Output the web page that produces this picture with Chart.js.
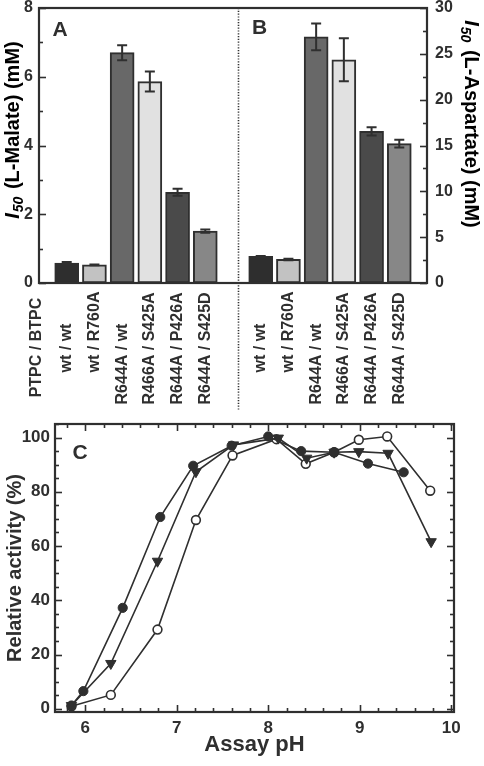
<!DOCTYPE html>
<html>
<head>
<meta charset="utf-8">
<script src="https://cdn.jsdelivr.net/npm/chart.js@4.4.1/dist/chart.umd.min.js"></script>
<style>
  html, body { margin: 0; padding: 0; background: #fff; }
  canvas { position: absolute; left: 0; }
  #barChart { top: 0; }
  #phChart { top: 410px; }
</style>
</head>
<body>
<canvas id="barChart" width="484" height="410"></canvas>
<canvas id="phChart" width="484" height="356"></canvas>
<script>
// ---- data: panels A / B ----
const pairLabels = ['wt / wt', 'wt / R760A', 'R644A / wt', 'R466A / S425A', 'R644A / P426A', 'R644A / S425D'];
const headerLabel = 'PTPC / BTPC';
const malateI50 = [0.58, 0.53, 6.70, 5.86, 2.64, 1.51];
const malateErr = [0.03, 0.01, 0.22, 0.29, 0.10, 0.05];
const aspartateI50 = [2.90, 2.57, 26.85, 24.35, 16.55, 15.20];
const aspartateErr = [0.05, 0.08, 1.45, 2.35, 0.45, 0.42];
const barFills = ['#2e2e2e', '#c2c2c2', '#686868', '#e1e1e1', '#4a4a4a', '#878787'];

// ---- data: panel C ----
const phFilled = [5.85, 5.98, 6.41, 6.82, 7.18, 7.60, 8.00, 8.36, 8.72, 9.09, 9.48];
const actFilled = [1.2, 6.5, 37.2, 70.7, 89.6, 97.0, 100.4, 95.0, 94.6, 90.4, 87.2];
const phTriangle = [5.85, 6.28, 6.79, 7.21, 7.62, 8.11, 8.42, 8.72, 8.99, 9.31, 9.78];
const actTriangle = [1.2, 16.7, 54.4, 87.4, 97.3, 99.8, 92.4, 94.6, 94.8, 94.2, 61.6];
const phOpen = [5.85, 6.28, 6.79, 7.21, 7.61, 8.09, 8.41, 8.72, 8.99, 9.30, 9.77];
const actOpen = [0.9, 5.1, 29.2, 69.6, 93.4, 99.4, 90.3, 94.6, 99.2, 100.4, 80.4];

const INK = '#2f2f2f';
const FAM = '"Liberation Sans", Arial, Helvetica, sans-serif';
Chart.defaults.font.family = FAM;
Chart.defaults.font.weight = 'bold';
Chart.defaults.color = INK;

// frame round the plot area + inward ticks
const frameTicks = {
	id: 'frameTicks',
	afterDatasetsDraw(chart, args, opts) {
		const {ctx, chartArea: a} = chart;
		ctx.save();
		ctx.strokeStyle = INK;
		ctx.lineWidth = 1.6;
		(opts.marks || []).forEach(m => {
			const s = chart.scales[m.scale];
			const first = Math.ceil((s.min - 1e-9) / m.minor);
			for (let k = first; k * m.minor <= s.max + 1e-9; k++) {
				const v = k * m.minor;
				const r = v / m.major;
				const len = Math.abs(r - Math.round(r)) < 1e-6 ? 7 : 4;
				const p = Math.round(s.getPixelForValue(v)) + 0.5;
				m.sides.forEach(side => {
					ctx.beginPath();
					if (side === 'left') { ctx.moveTo(a.left, p); ctx.lineTo(a.left + len, p); }
					if (side === 'right') { ctx.moveTo(a.right, p); ctx.lineTo(a.right - len, p); }
					if (side === 'bottom') { ctx.moveTo(p, a.bottom); ctx.lineTo(p, a.bottom - len); }
					if (side === 'top') { ctx.moveTo(p, a.top); ctx.lineTo(p, a.top + len); }
					ctx.stroke();
				});
			}
		});
		ctx.lineWidth = 2.2;
		ctx.strokeRect(a.left, a.top, a.right - a.left, a.bottom - a.top);
		ctx.restore();
	}
};

const errorBars = {
	id: 'errorBars',
	afterDatasetsDraw(chart) {
		const {ctx} = chart;
		ctx.save();
		ctx.strokeStyle = INK;
		ctx.lineWidth = 2;
		chart.data.datasets.forEach((ds, di) => {
			const ys = chart.scales[ds.yAxisID];
			chart.getDatasetMeta(di).data.forEach((bar, i) => {
				const v = ds.data[i], e = ds.errors[i];
				if (v == null || e == null) return;
				const hi = ys.getPixelForValue(v + e), lo = ys.getPixelForValue(v - e);
				ctx.beginPath();
				ctx.moveTo(bar.x, hi); ctx.lineTo(bar.x, lo);
				ctx.moveTo(bar.x - 5, hi); ctx.lineTo(bar.x + 5, hi);
				ctx.moveTo(bar.x - 5, lo); ctx.lineTo(bar.x + 5, lo);
				ctx.stroke();
			});
		});
		ctx.restore();
	}
};

// rotated category labels, lined up on their slash; divider; panel letters; I50 titles
function drawI50(ctx, cx, cy, rot, rest) {
	const f = 20;
	const fMain = `bold ${f}px ${FAM}`, fI = `italic bold ${f}px ${FAM}`, fSub = `italic bold 14px ${FAM}`;
	ctx.save();
	ctx.font = fI; const wI = ctx.measureText('I').width + 1;
	ctx.font = fSub; const wS = ctx.measureText('50').width + 2;
	ctx.font = fMain; const wR = ctx.measureText(rest).width;
	ctx.translate(cx, cy);
	ctx.rotate(rot);
	let x0 = -(wI + wS + wR) / 2;
	const base = f * 0.36;
	ctx.textAlign = 'left';
	ctx.textBaseline = 'alphabetic';
	ctx.font = fI; ctx.fillText('I', x0, base);
	ctx.font = fSub; ctx.fillText('50', x0 + wI, base + 4);
	ctx.font = fMain; ctx.fillText(rest, x0 + wI + wS, base);
	ctx.restore();
}

const panelText = {
	id: 'panelText',
	afterDraw(chart, args, opts) {
		const {ctx, chartArea: a} = chart;
		const x = chart.scales.x;
		ctx.save();
		ctx.fillStyle = INK;
		ctx.font = `bold 16px ${FAM}`;
		ctx.textAlign = 'left';
		ctx.textBaseline = 'middle';
		chart.data.labels.forEach((lab, i) => {
			if (!lab) return;
			const pre = lab.slice(0, lab.indexOf('/'));
			const shift = ctx.measureText(pre).width + ctx.measureText('/').width / 2;
			const px = x.getPixelForValue(i) - (i === 0 ? 2 : 0);
			ctx.save();
			ctx.translate(px, a.bottom + 65);
			ctx.rotate(-Math.PI / 2);
			ctx.fillText(lab, -shift, 0);
			ctx.restore();
		});
		// dotted divider between A and B
		const dx = Math.round(x.getPixelForValue(7.18)) + 0.5;
		ctx.strokeStyle = '#333';
		ctx.lineWidth = 1.6;
		ctx.setLineDash([1.2, 1.6]);
		ctx.beginPath(); ctx.moveTo(dx, a.top); ctx.lineTo(dx, chart.height); ctx.stroke();
		ctx.setLineDash([]);
		ctx.font = `bold 21px ${FAM}`;
		ctx.textAlign = 'center';
		ctx.fillText('A', a.left + 21, a.top + 22);
		ctx.fillText('B', dx + 21, a.top + 20);
		ctx.restore();
		drawI50(ctx, 11.5, 130, -Math.PI / 2, ' (L-Malate) (mM)');
		drawI50(ctx, 472, 124, Math.PI / 2, ' (L-Aspartate) (mM)');
	}
};

function fixSize(prop, size) {
	return s => {
		s[prop] = size;
		s.paddingTop = s.paddingBottom = s.paddingLeft = s.paddingRight = 0;
	};
}

const topLabels = [headerLabel, ...pairLabels, '', ...pairLabels, ''];
const topFills = ['#fff', ...barFills, '#fff', ...barFills, '#fff'];
const gap = [null];

new Chart(document.getElementById('barChart'), {
	type: 'bar',
	data: {
		labels: topLabels,
		datasets: [{
			label: 'L-Malate',
			data: [...gap, ...malateI50, ...gap, ...pairLabels.map(() => null), ...gap],
			errors: [...gap, ...malateErr, ...gap, ...pairLabels.map(() => null), ...gap],
			yAxisID: 'yA',
			backgroundColor: topFills,
			borderColor: INK,
			borderWidth: 2,
			borderSkipped: false
		}, {
			label: 'L-Aspartate',
			data: [...gap, ...pairLabels.map(() => null), ...gap, ...aspartateI50, ...gap],
			errors: [...gap, ...pairLabels.map(() => null), ...gap, ...aspartateErr, ...gap],
			yAxisID: 'yB',
			backgroundColor: topFills,
			borderColor: INK,
			borderWidth: 2,
			borderSkipped: false
		}]
	},
	options: {
		responsive: false,
		animation: false,
		layout: {padding: {top: 8}},
		datasets: {bar: {grouped: false, barThickness: 24}},
		plugins: {
			legend: {display: false},
			tooltip: {enabled: false},
			frameTicks: {marks: [
				{scale: 'yA', major: 2, minor: 1, sides: ['left']},
				{scale: 'yB', major: 5, minor: 2.5, sides: ['right']}
			]}
		},
		scales: {
			x: {
				type: 'category',
				offset: false,
				grid: {display: false, drawTicks: false},
				border: {display: false},
				ticks: {display: false},
				afterFit: fixSize('height', 127)
			},
			yA: {
				position: 'left',
				min: 0, max: 8,
				grid: {display: false, drawTicks: false},
				border: {display: false},
				ticks: {stepSize: 2, padding: 6, font: {size: 16, weight: 'bold'}, color: INK},
				afterFit: fixSize('width', 39)
			},
			yB: {
				position: 'right',
				min: 0, max: 30,
				grid: {display: false, drawTicks: false},
				border: {display: false},
				ticks: {stepSize: 5, padding: 8, font: {size: 16, weight: 'bold'}, color: INK},
				afterFit: fixSize('width', 57)
			}
		}
	},
	plugins: [frameTicks, errorBars, panelText]
});

function toPoints(xs, ys) {
	return xs.map((x, i) => ({x: x, y: ys[i]}));
}

const letterC = {
	id: 'letterC',
	afterDraw(chart) {
		const {ctx, chartArea: a} = chart;
		ctx.save();
		ctx.fillStyle = INK;
		ctx.font = `bold 21px ${FAM}`;
		ctx.textAlign = 'center';
		ctx.textBaseline = 'middle';
		ctx.fillText('C', a.left + 25, a.top + 29);
		ctx.restore();
	}
};

new Chart(document.getElementById('phChart'), {
	type: 'line',
	data: {
		datasets: [{
			label: 'filled circles',
			data: toPoints(phFilled, actFilled),
			borderColor: INK,
			borderWidth: 1.6,
			pointStyle: 'circle',
			pointRadius: 4.6,
			pointBackgroundColor: INK,
			pointBorderColor: INK,
			pointBorderWidth: 1
		}, {
			label: 'triangles',
			data: toPoints(phTriangle, actTriangle),
			borderColor: INK,
			borderWidth: 1.6,
			pointStyle: 'triangle',
			rotation: 180,
			pointRadius: 6,
			pointBackgroundColor: INK,
			pointBorderColor: INK,
			pointBorderWidth: 1
		}, {
			label: 'open circles',
			data: toPoints(phOpen, actOpen),
			borderColor: INK,
			borderWidth: 1.6,
			pointStyle: 'circle',
			pointRadius: 4.4,
			pointBackgroundColor: '#fff',
			pointBorderColor: INK,
			pointBorderWidth: 1.6
		}]
	},
	options: {
		responsive: false,
		animation: false,
		layout: {padding: {top: 14, right: 30}},
		plugins: {
			legend: {display: false},
			tooltip: {enabled: false},
			frameTicks: {marks: [
				{scale: 'x', major: 1, minor: 0.2, sides: ['bottom', 'top']},
				{scale: 'y', major: 20, minor: 5, sides: ['left', 'right']}
			]}
		},
		scales: {
			x: {
				type: 'linear',
				min: 5.67, max: 10.03,
				grid: {display: false, drawTicks: false},
				border: {display: false},
				ticks: {stepSize: 1, includeBounds: false, padding: 6, font: {size: 17, weight: 'bold'}, color: INK},
				title: {display: true, text: 'Assay pH', font: {size: 22, weight: 'bold'}, color: INK, padding: {bottom: 8}},
				afterFit: fixSize('height', 54)
			},
			y: {
				min: -1.2, max: 105,
				grid: {display: false, drawTicks: false},
				border: {display: false},
				ticks: {stepSize: 20, includeBounds: false, padding: 5, font: {size: 17, weight: 'bold'}, color: INK},
				title: {display: true, text: 'Relative activity (%)', font: {size: 20, weight: 'bold'}, color: INK, padding: {top: 3}},
				afterFit: fixSize('width', 55)
			}
		}
	},
	plugins: [frameTicks, letterC]
});
</script>
</body>
</html>
